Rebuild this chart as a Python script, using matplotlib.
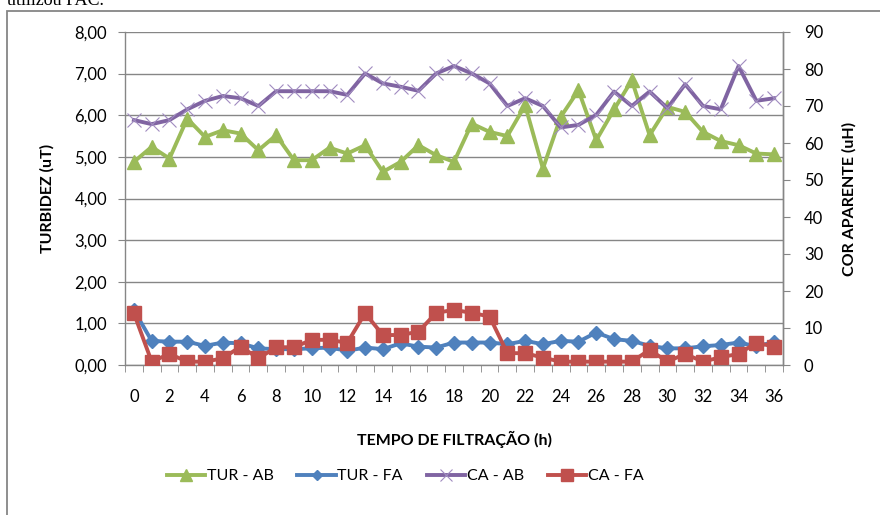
import matplotlib
matplotlib.use("Agg")
import matplotlib.pyplot as plt
from matplotlib.patches import Rectangle
from matplotlib.ticker import FixedLocator, FuncFormatter

hours = list(range(37))
tur_ab = [4.88, 5.24, 4.96, 5.92, 5.48, 5.64, 5.56, 5.16, 5.52, 4.92, 4.92, 5.22, 5.08, 5.28,
          4.64, 4.88, 5.28, 5.04, 4.88, 5.80, 5.60, 5.50, 6.24, 4.72, 5.96, 6.60, 5.40, 6.14,
          6.84, 5.52, 6.20, 6.08, 5.60, 5.38, 5.28, 5.08, 5.06]
tur_fa = [1.32, 0.58, 0.56, 0.56, 0.46, 0.54, 0.52, 0.40, 0.38, 0.38, 0.40, 0.42, 0.34, 0.42,
          0.38, 0.52, 0.44, 0.42, 0.54, 0.54, 0.54, 0.50, 0.58, 0.50, 0.58, 0.56, 0.78, 0.62,
          0.58, 0.46, 0.40, 0.40, 0.45, 0.48, 0.54, 0.45, 0.55]
ca_ab = [66.2, 65.1, 66.2, 69.1, 71.4, 72.7, 72.1, 70.0, 74.0, 74.0, 74.0, 74.0, 73.0, 78.8,
         76.1, 75.2, 74.1, 78.8, 80.8, 78.8, 76.1, 70.0, 72.1, 70.0, 64.2, 64.9, 67.6, 73.9,
         70.0, 73.9, 69.4, 75.9, 70.0, 69.1, 80.8, 71.4, 72.1]
ca_fa = [14.0, 0.9, 3.0, 0.9, 0.9, 1.8, 5.0, 1.8, 4.8, 4.8, 6.8, 6.8, 6.0, 14.0,
         8.1, 8.1, 9.0, 14.1, 14.9, 14.1, 13.1, 3.2, 3.2, 2.0, 0.9, 0.9, 0.9, 0.9,
         0.9, 4.1, 0.9, 3.0, 0.9, 2.1, 3.0, 6.0, 5.0]
left_ticks = [0, 1, 2, 3, 4, 5, 6, 7, 8]
right_ticks = [0, 10, 20, 30, 40, 50, 60, 70, 80, 90]
x_labels = list(range(0, 37, 2))

FONT = "Lato"
GRAY = "#868686"
fig = plt.figure(figsize=(8.8, 5.15), dpi=100)

# outer chart border (cropped at right and bottom)
fig.patches.append(Rectangle((7 / 880, -0.2), 1.2, 0.2 + 1 - 11 / 515, transform=fig.transFigure,
                             fill=False, edgecolor=GRAY, linewidth=1.3, zorder=0))
fig.text(7 / 880, 1 - 5 / 515, "utilizou PAC.", family="Liberation Serif", fontsize=13,
         va="baseline", ha="left", color="black")

ax = fig.add_axes([125 / 880, 1 - 365 / 515, (783 - 125) / 880, (365 - 32) / 515])
ax2 = ax.twinx()

l1, = ax.plot(hours, tur_ab, color="#9BBB59", lw=2.8, marker="^", ms=10, zorder=3)
l2, = ax.plot(hours, tur_fa, color="#4F81BD", lw=2.8, marker="D", ms=7, zorder=3)
l3, = ax2.plot(hours, ca_ab, color="#8064A2", lw=2.8, marker="x", ms=10, mew=0.8,
               mec="#A08CC0", zorder=3)
l4, = ax2.plot(hours, ca_fa, color="#C0504D", lw=2.8, marker="s", ms=10, zorder=4)

ax.set_xlim(-0.5, 36.5)
ax.set_ylim(0, 8)
ax2.set_ylim(0, 90)
ax.yaxis.set_major_locator(FixedLocator(left_ticks))
ax.yaxis.set_major_formatter(FuncFormatter(lambda v, p: f"{v:.2f}".replace(".", ",")))
ax2.yaxis.set_major_locator(FixedLocator(right_ticks))
ax.xaxis.set_major_locator(FixedLocator(x_labels))
ax.xaxis.set_minor_locator(FixedLocator([i + 0.5 for i in range(-1, 37)]))
ax.tick_params(axis="x", which="major", length=0, pad=17)
ax.tick_params(axis="x", which="minor", length=5, color=GRAY, direction="out")
ax.tick_params(axis="y", length=5, color=GRAY, pad=8)
ax2.tick_params(axis="y", length=5, color=GRAY, pad=10)
for a in (ax, ax2):
    for lab in a.get_xticklabels() + a.get_yticklabels():
        lab.set_family(FONT)
        lab.set_fontsize(12)
ax.grid(axis="y", color=GRAY, lw=1)
ax.set_axisbelow(True)
for a in (ax, ax2):
    a.spines["top"].set_visible(False)
    for s in ("left", "right", "bottom"):
        a.spines[s].set_color(GRAY)
        a.spines[s].set_linewidth(1)
ax2.spines["left"].set_visible(False)
ax2.spines["bottom"].set_visible(False)
ax.patch.set_visible(False)

ax.set_ylabel("TURBIDEZ (uT)", family=FONT, fontsize=11.5, fontweight="bold", labelpad=14)
ax2.set_ylabel("COR APARENTE (uH)", family=FONT, fontsize=11.5, fontweight="bold", labelpad=14)
ax.set_xlabel("TEMPO DE FILTRAÇÃO (h)", family=FONT, fontsize=11.5, fontweight="bold", labelpad=19)

fig.legend([l1, l2, l3, l4], ["TUR - AB", "TUR - FA", "CA - AB", "CA - FA"],
           loc="center", bbox_to_anchor=(405 / 880, 1 - 476 / 515), ncol=4, frameon=False,
           prop={"family": FONT, "size": 11.5}, handlelength=2.4, handletextpad=0.1,
           columnspacing=1.5, markerscale=0.8)

fig.savefig("out.png", dpi=100)
